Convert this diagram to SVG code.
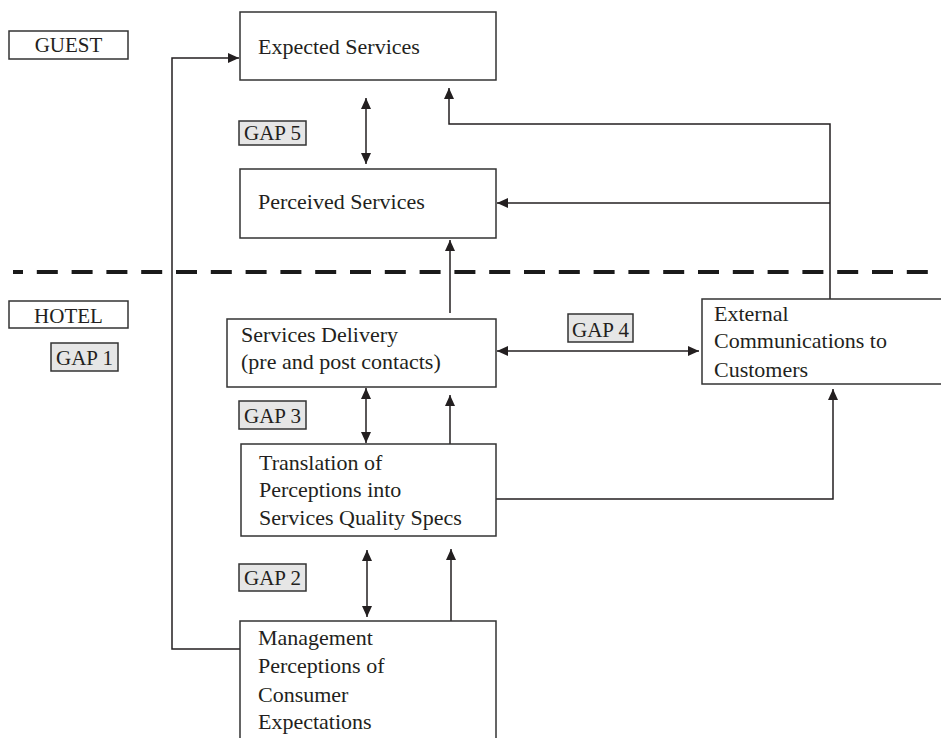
<svg xmlns="http://www.w3.org/2000/svg" width="941" height="738" viewBox="0 0 941 738">
<style>
.box{fill:#fff;stroke:#333;stroke-width:1.5}
.gap{fill:#e6e6e6;stroke:#333;stroke-width:1.5}
.t{font-family:"Liberation Serif","Times New Roman",serif;font-size:21px;fill:#231f20}
.n{font-size:22px}
.c{fill:none;stroke:#231f20;stroke-width:1.5}
</style>
<defs>
<marker id="ah" markerUnits="userSpaceOnUse" markerWidth="12" markerHeight="10" refX="11" refY="5" orient="auto-start-reverse">
<path d="M0,0 L11,5 L0,10 z" fill="#231f20"/>
</marker>
</defs>
<rect width="941" height="738" fill="#fff"/>
<line x1="13" y1="272" x2="928" y2="272" stroke="#1a1a1a" stroke-width="4" stroke-dasharray="21 13.8" stroke-dashoffset="11"/>
<g id="connectors">
<path class="c" d="M240,649 H172 V58 H239" marker-end="url(#ah)"/>
<path class="c" d="M366,98 V164" marker-start="url(#ah)" marker-end="url(#ah)"/>
<path class="c" d="M830,309 V124 H449 V88" marker-end="url(#ah)"/>
<path class="c" d="M830,203 H497" marker-end="url(#ah)"/>
<path class="c" d="M450,313 V240" marker-end="url(#ah)"/>
<path class="c" d="M497,351 H699" marker-start="url(#ah)" marker-end="url(#ah)"/>
<path class="c" d="M366,388 V443" marker-start="url(#ah)" marker-end="url(#ah)"/>
<path class="c" d="M450,468 V395" marker-end="url(#ah)"/>
<path class="c" d="M496,499 H833 V389" marker-end="url(#ah)"/>
<path class="c" d="M367,550 V617" marker-start="url(#ah)" marker-end="url(#ah)"/>
<path class="c" d="M451,624 V549" marker-end="url(#ah)"/>
</g>
<g id="guest"><rect class="box" x="9" y="31" width="119" height="28"/><text class="t" x="68.5" y="52" text-anchor="middle">GUEST</text></g>
<g id="hotel"><rect class="box" x="9" y="301" width="119" height="27"/><text class="t" x="68.5" y="323" text-anchor="middle">HOTEL</text></g>
<g id="expected"><rect class="box" x="240" y="12" width="256" height="68"/><text class="t n" x="258" y="54">Expected Services</text></g>
<g id="perceived"><rect class="box" x="240" y="169" width="256" height="69"/><text class="t n" x="258" y="209">Perceived Services</text></g>
<g id="delivery"><rect class="box" x="227" y="319" width="269" height="68"/><text class="t n" x="241" y="342">Services Delivery</text><text class="t n" x="241" y="369">(pre and post contacts)</text></g>
<g id="translation"><rect class="box" x="241" y="444" width="255" height="92"/><text class="t n" x="259" y="470">Translation of</text><text class="t n" x="259" y="497">Perceptions into</text><text class="t n" x="259" y="525">Services Quality Specs</text></g>
<g id="management"><rect class="box" x="240" y="621" width="256" height="130"/><text class="t n" x="258" y="645">Management</text><text class="t n" x="258" y="673">Perceptions of</text><text class="t n" x="258" y="702">Consumer</text><text class="t n" x="258" y="729">Expectations</text></g>
<g id="external"><rect class="box" x="702" y="299" width="250" height="85"/><text class="t n" x="714" y="321">External</text><text class="t n" x="714" y="348">Communications to</text><text class="t n" x="714" y="377">Customers</text></g>
<g id="gap1"><rect class="gap" x="51" y="343" width="67" height="28"/><text class="t" x="84.5" y="365" text-anchor="middle">GAP 1</text></g>
<g id="gap2"><rect class="gap" x="239" y="564" width="67" height="27"/><text class="t" x="272.5" y="585" text-anchor="middle">GAP 2</text></g>
<g id="gap3"><rect class="gap" x="239" y="401" width="67" height="28"/><text class="t" x="272.5" y="423" text-anchor="middle">GAP 3</text></g>
<g id="gap4"><rect class="gap" x="568" y="314" width="65" height="28"/><text class="t" x="600.5" y="337" text-anchor="middle">GAP 4</text></g>
<g id="gap5"><rect class="gap" x="239" y="121" width="67" height="24"/><text class="t" x="272.5" y="140" text-anchor="middle">GAP 5</text></g>
</svg>
